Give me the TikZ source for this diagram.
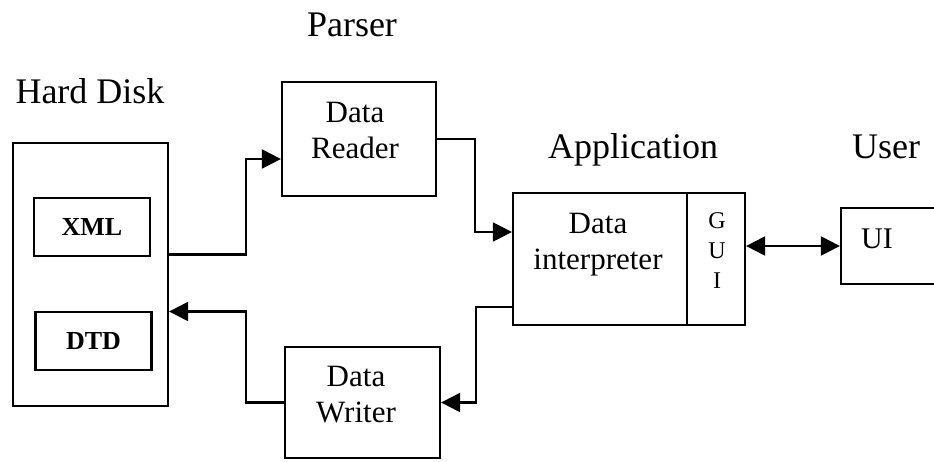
\documentclass[tikz,border=0pt]{standalone}
\usepackage{fontspec}
\setmainfont{Liberation Serif}
\usetikzlibrary{arrows.meta}

\begin{document}
\begin{tikzpicture}[x=1pt, y=-1pt, line width=2.3pt,
                    box/.style={draw,inner sep=0pt},
                    title/.style={font=\fontsize{36}{40}\selectfont,anchor=base},
                    boxtext/.style={font=\fontsize{31}{36}\selectfont,align=center,anchor=north,inner sep=0pt},
                    file/.style={box,minimum width=116pt,minimum height=58pt,font=\fontsize{26}{30}\selectfont\bfseries},
                    flow/.style={-{Triangle[length=19pt,width=19pt]}},
                    both/.style={{Triangle[length=19pt,width=19pt]}-{Triangle[length=19pt,width=19pt]}}]

	\useasboundingbox (0,0) rectangle (934,461);
	\clip (0,0) rectangle (934,461);

	\node[title] (disklabel) at (90,103) {Hard Disk};
	\node[title] (parserlabel) at (352,36) {Parser};
	\node[title] (applabel) at (633,158) {Application};
	\node[title] (userlabel) at (886,158) {User};

	\node[box,minimum width=155pt,minimum height=263pt] (hd) at (90.5,274.5) {};
	\node[file] (xml) at (92,227) {XML};
	\node[file] (dtd) at (93.5,341) {DTD};

	\node[box,minimum width=154pt,minimum height=114pt] (reader) at (359,139) {};
	\node[boxtext] (readertxt) at (355,101.5) {Data\\Reader};

	\node[box,minimum width=155pt,minimum height=111pt] (writer) at (362.5,402.5) {};
	\node[boxtext] (writertxt) at (356,365.5) {Data\\Writer};

	\node[box,minimum width=174pt,minimum height=132pt] (interp) at (600,259) {};
	\node[boxtext] (interptxt) at (598,212.5) {Data\\interpreter};
	\node[box,minimum width=58pt,minimum height=132pt] (gui) at (716,259) {};
	\node[boxtext,font=\fontsize{24}{30}\selectfont] (guitxt) at (717,211) {G\\U\\I};

	\node[box,minimum width=124pt,minimum height=76pt] (ui) at (903,246) {};
	\node[anchor=base,font=\fontsize{30}{36}\selectfont] (uitxt) at (877,248) {UI};

	\draw[flow] ([yshift=20pt]hd.east) -- ++(77,0) |- ([yshift=-20pt]reader.west);
	\draw[flow] (reader.east) -- ++(38,0) |- ([yshift=27pt]interp.west);
	\draw[flow] ([yshift=-48pt]interp.west) -- ++(-36,0) |- (writer.east);
	\draw[flow] (writer.west) -- ++(-38,0) |- ([yshift=-37pt]hd.east);
	\draw[both] (gui.east |- ui.west) -- (ui.west);

\end{tikzpicture}
\end{document}
